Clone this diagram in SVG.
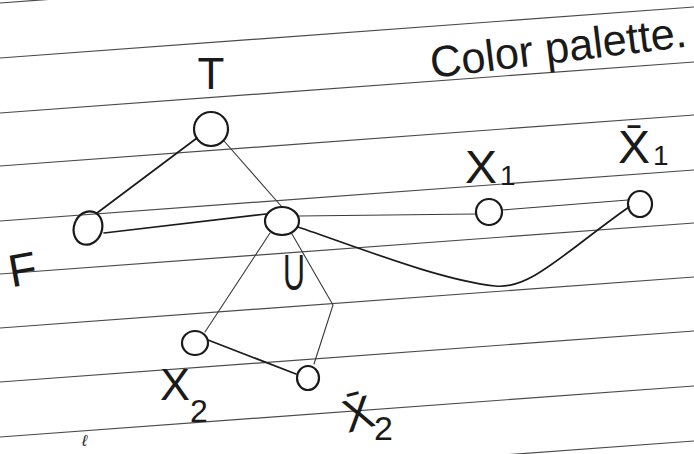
<svg xmlns="http://www.w3.org/2000/svg" width="694" height="454" viewBox="0 0 694 454">
  <style>
    .rule { stroke:#4a4a4a; stroke-width:1.2; fill:none; }
    .node { fill:none; stroke:#1a1a1a; stroke-width:2.2; }
    .edge { fill:none; stroke:#1a1a1a; stroke-width:1.7; stroke-linecap:round; stroke-linejoin:round; }
    .edge-light { fill:none; stroke:#3a3a3a; stroke-width:1.1; stroke-linecap:round; stroke-linejoin:round; }
    .hand { font-family:"Liberation Sans","DejaVu Sans",sans-serif; fill:#1a1a1a; }
  </style>
  <rect width="694" height="454" fill="#ffffff"/>

  <g id="ruled-lines">
    <line class="rule" x1="0" y1="3" x2="694" y2="-48"/>
    <line class="rule" x1="0" y1="58" x2="694" y2="7"/>
    <line class="rule" x1="0" y1="113" x2="694" y2="62"/>
    <line class="rule" x1="0" y1="166" x2="694" y2="115"/>
    <line class="rule" x1="0" y1="221" x2="694" y2="170"/>
    <line class="rule" x1="0" y1="274" x2="694" y2="223"/>
    <line class="rule" x1="0" y1="328" x2="694" y2="277"/>
    <line class="rule" x1="0" y1="382" x2="694" y2="331"/>
    <line class="rule" x1="0" y1="437" x2="694" y2="386"/>
    <line class="rule" x1="0" y1="492" x2="694" y2="441"/>
  </g>

  <g id="title">
    <text class="hand" x="432" y="78" font-size="44" textLength="258" lengthAdjust="spacingAndGlyphs" transform="rotate(-7 432 78)">Color palette.</text>
  </g>

  <g id="connectors">
    <path class="edge" d="M97,213 L197,138"/>
    <path class="edge-light" d="M224,141 L282,207"/>
    <path class="edge" d="M104,233 L266,214"/>
    <path class="edge-light" d="M299,216 L476,214"/>
    <path class="edge-light" d="M502,210 L628,200"/>
    <path class="edge" d="M298,227 C360,248 440,280 495,286 C530,290 565,252 629,207"/>
    <path class="edge-light" d="M270,233 L205,332"/>
    <path class="edge-light" d="M292,234 L333,305 L314,364"/>
    <path class="edge" d="M208,340 L296,374"/>
  </g>

  <g id="node-T">
    <ellipse class="node" cx="211" cy="129" rx="17" ry="17"/>
    <text class="hand" x="211" y="89" font-size="44" text-anchor="middle">T</text>
  </g>
  <g id="node-F">
    <ellipse class="node" cx="88" cy="228" rx="14" ry="17" transform="rotate(20 88 228)"/>
    <text class="hand" x="8" y="285" font-size="46" transform="rotate(-10 24 266)">F</text>
  </g>
  <g id="node-U">
    <ellipse class="node" cx="282" cy="221" rx="17" ry="14"/>
    <text class="hand" x="283" y="290" font-size="50" textLength="22" lengthAdjust="spacingAndGlyphs">U</text>
  </g>
  <g id="node-X1">
    <ellipse class="node" cx="489" cy="212" rx="13" ry="13"/>
    <text class="hand" x="465" y="183" font-size="46" textLength="32" lengthAdjust="spacingAndGlyphs">X</text>
    <text class="hand" x="500" y="185" font-size="28">1</text>
  </g>
  <g id="node-X1bar">
    <ellipse class="node" cx="640" cy="204" rx="12" ry="13"/>
    <text class="hand" x="618" y="163" font-size="46" textLength="32" lengthAdjust="spacingAndGlyphs">X̄</text>
    <text class="hand" x="653" y="165" font-size="28">1</text>
  </g>
  <g id="node-X2">
    <ellipse class="node" cx="195" cy="343" rx="13" ry="12"/>
    <text class="hand" x="160" y="400" font-size="44" textLength="30" lengthAdjust="spacingAndGlyphs">X</text>
    <text class="hand" x="190" y="422" font-size="32">2</text>
  </g>
  <g id="node-X2bar">
    <ellipse class="node" cx="308" cy="378" rx="11" ry="12"/>
    <text class="hand" x="342" y="430" font-size="46" textLength="30" lengthAdjust="spacingAndGlyphs" transform="rotate(-15 356 410)">X̄</text>
    <text class="hand" x="374" y="440" font-size="34">2</text>
  </g>

  <g id="partial-marks">
    <text class="hand" x="82" y="446" font-size="16" font-style="italic">ℓ</text>
  </g>
</svg>
